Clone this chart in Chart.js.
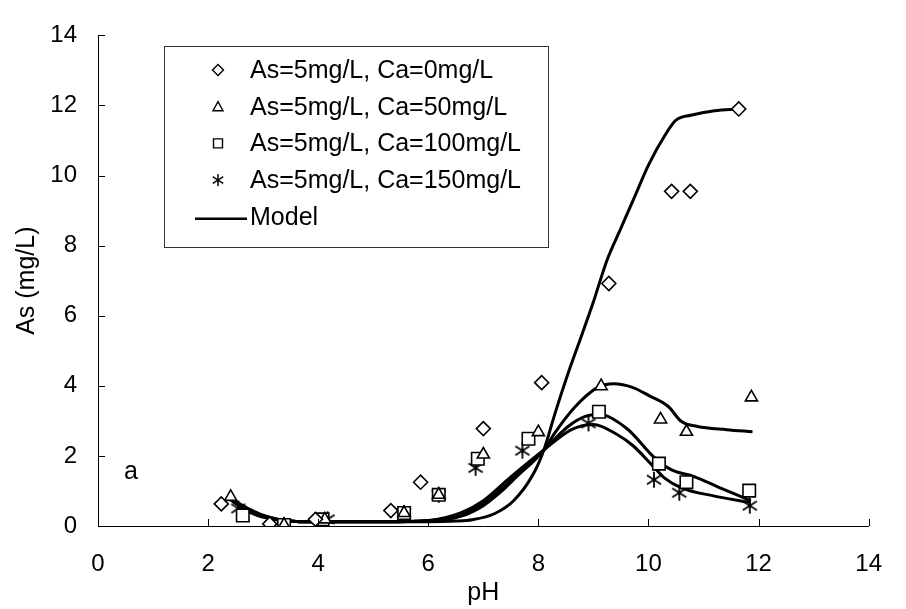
<!DOCTYPE html>
<html>
<head>
<meta charset="utf-8">
<script src="https://cdn.jsdelivr.net/npm/chart.js@4.4.1/dist/chart.umd.min.js"></script>
<style>
  html, body { margin: 0; padding: 0; background: #fff; }
  #wrap { width: 906px; height: 609px; }
</style>
</head>
<body>
<div id="wrap"><canvas id="chart" width="906" height="609"></canvas></div>
<script>
// As vs pH — measured points per Ca dose, plus model curves.
const FONT = '"Liberation Sans", Arial, sans-serif';

const seriesLabels = [
  "As=5mg/L, Ca=0mg/L", "As=5mg/L, Ca=50mg/L",
  "As=5mg/L, Ca=100mg/L", "As=5mg/L, Ca=150mg/L",
];
const modelLabel = "Model";

const phCa0 = [2.24, 3.12, 3.95, 5.32, 5.86, 7.0, 8.06, 9.28, 10.42, 10.76, 11.64];
const asCa0 = [0.63, 0.06, 0.19, 0.44, 1.25, 2.78, 4.09, 6.92, 9.55, 9.55, 11.9];

const phCa50 = [2.41, 3.38, 4.12, 5.56, 6.19, 7.0, 8.0, 9.14, 10.22, 10.69, 11.87];
const asCa50 = [0.83, 0.03, 0.19, 0.37, 0.89, 2.04, 2.68, 3.99, 3.04, 2.69, 3.67];

const phCa100 = [2.63, 3.38, 4.08, 5.56, 6.19, 6.90, 7.82, 9.10, 10.19, 10.69, 11.83];
const asCa100 = [0.30, 0.03, 0.19, 0.37, 0.89, 1.92, 2.49, 3.26, 1.78, 1.25, 1.01];

const phCa150 = [2.55, 3.38, 4.17, 5.56, 6.19, 6.86, 7.71, 8.91, 10.1, 10.56, 11.84];
const asCa150 = [0.50, 0.03, 0.19, 0.37, 0.89, 1.66, 2.15, 2.93, 1.32, 0.95, 0.58];

const modelPh0 = [2.35, 2.6, 2.9, 3.3, 3.6, 4.0, 5.0, 6.0, 6.5, 6.8, 7.2, 7.55, 7.9, 8.1, 8.3, 8.55, 8.8, 9.0, 9.25, 9.5, 9.75, 10.0, 10.3, 10.5, 10.77, 11.2, 11.64];
const modelAs0 = [0.82, 0.53, 0.30, 0.17, 0.13, 0.12, 0.12, 0.12, 0.14, 0.18, 0.35, 0.72, 1.46, 2.17, 3.2, 4.4, 5.5, 6.4, 7.6, 8.5, 9.4, 10.3, 11.15, 11.58, 11.72, 11.85, 11.9];

const modelPh50 = [2.4, 2.6, 2.9, 3.3, 3.6, 4.0, 5.0, 6.0, 6.6, 7.0, 7.3, 7.6, 8.1, 8.3, 8.66, 9.07, 9.37, 9.72, 10.01, 10.36, 10.6, 10.89, 11.42, 11.89];
const modelAs50 = [0.8, 0.56, 0.32, 0.17, 0.13, 0.12, 0.12, 0.14, 0.28, 0.58, 0.95, 1.4, 2.17, 2.66, 3.39, 3.95, 4.06, 3.95, 3.72, 3.41, 2.98, 2.84, 2.75, 2.69];

const modelPh100 = [2.45, 2.7, 3.0, 3.3, 3.6, 4.0, 5.0, 6.0, 6.6, 7.0, 7.5, 8.1, 8.54, 8.84, 9.1, 9.6, 10.13, 10.42, 10.83, 11.3, 11.86];
const modelAs100 = [0.75, 0.5, 0.3, 0.18, 0.13, 0.12, 0.12, 0.15, 0.32, 0.65, 1.3, 2.17, 2.84, 3.12, 3.18, 2.79, 1.92, 1.6, 1.41, 1.09, 0.72];

const modelPh150 = [2.5, 2.75, 3.0, 3.3, 3.6, 4.0, 5.0, 6.0, 6.6, 7.0, 7.5, 8.1, 8.6, 9.0, 9.43, 9.72, 10.07, 10.3, 10.6, 11.18, 11.86];
const modelAs150 = [0.7, 0.48, 0.3, 0.18, 0.13, 0.12, 0.12, 0.16, 0.38, 0.72, 1.4, 2.17, 2.75, 2.9, 2.61, 2.29, 1.73, 1.36, 1.09, 0.86, 0.67];

const zip = (xs, ys) => xs.map((x, i) => ({ x, y: ys[i] }));

// six-arm asterisk, drawn once on a small canvas and used as pointStyle
function asterisk(size, lw) {
  const c = document.createElement("canvas");
  c.width = c.height = size;
  const g = c.getContext("2d");
  const m = size / 2, r = size / 2 - 1, dx = r * 0.88, dy = r * 0.55;
  g.strokeStyle = "#000"; g.lineWidth = lw;
  g.beginPath();
  g.moveTo(m, m - r); g.lineTo(m, m + r);
  g.moveTo(m - dx, m - dy); g.lineTo(m + dx, m + dy);
  g.moveTo(m + dx, m - dy); g.lineTo(m - dx, m + dy);
  g.stroke();
  return c;
}
const starBig = asterisk(18, 1.8);
const starSmall = asterisk(14, 1.5);

const markerSet = (label, data, style, radius) => ({
  label, data, showLine: false, order: 0,
  pointStyle: style, pointRadius: radius, pointHoverRadius: radius,
  backgroundColor: "#fff", borderColor: "#000", borderWidth: 1.6,
});
const modelSet = (data) => ({
  label: modelLabel, data, showLine: true, order: 1,
  pointRadius: 0, borderColor: "#000", borderWidth: 3,
  cubicInterpolationMode: "monotone", fill: false,
});

const datasets = [
  markerSet(seriesLabels[0], zip(phCa0, asCa0), "rectRot", 7),
  markerSet(seriesLabels[1], zip(phCa50, asCa50), "triangle", 7),
  markerSet(seriesLabels[2], zip(phCa100, asCa100), "rect", 8.8),
  markerSet(seriesLabels[3], zip(phCa150, asCa150), starBig, 9),
  modelSet(zip(modelPh0, modelAs0)),
  modelSet(zip(modelPh50, modelAs50)),
  modelSet(zip(modelPh100, modelAs100)),
  modelSet(zip(modelPh150, modelAs150)),
];

// inside ticks, panel letter and the boxed legend
const decor = {
  id: "decor",
  afterDraw(chart) {
    const { ctx, chartArea: a, scales: { x, y } } = chart;
    ctx.save();
    ctx.strokeStyle = "#000"; ctx.lineWidth = 1;
    ctx.beginPath();
    for (let v = 0; v <= 14; v += 2) {
      const px = Math.round(x.getPixelForValue(v)) + 0.5;
      ctx.moveTo(px, a.bottom); ctx.lineTo(px, a.bottom - 7);
      const py = Math.round(y.getPixelForValue(v)) + 0.5;
      ctx.moveTo(a.left, py); ctx.lineTo(a.left + 7, py);
    }
    ctx.stroke();

    ctx.fillStyle = "#000";
    ctx.font = `25px ${FONT}`;
    ctx.textBaseline = "middle"; ctx.textAlign = "center";
    ctx.fillText("a", x.getPixelForValue(0.6), y.getPixelForValue(1.53));

    // legend
    const bx = 164.5, by = 46.5, bw = 384, bh = 201;
    ctx.fillStyle = "#fff"; ctx.fillRect(bx, by, bw, bh);
    ctx.strokeStyle = "#333"; ctx.lineWidth = 1; ctx.strokeRect(bx, by, bw, bh);
    const mx = 218, tx = 250;
    ctx.textAlign = "left"; ctx.font = `25px ${FONT}`;
    const rows = [...seriesLabels, modelLabel];
    rows.forEach((t, i) => {
      const cy = 70 + i * 36.7;
      ctx.fillStyle = "#000";
      ctx.fillText(t, tx, cy + 1);
      ctx.strokeStyle = "#000"; ctx.fillStyle = "#fff"; ctx.lineWidth = 1.4;
      ctx.beginPath();
      if (i === 0) {
        ctx.moveTo(mx - 5.5, cy); ctx.lineTo(mx, cy - 5.5);
        ctx.lineTo(mx + 5.5, cy); ctx.lineTo(mx, cy + 5.5); ctx.closePath();
        ctx.fill(); ctx.stroke();
      } else if (i === 1) {
        ctx.moveTo(mx, cy - 5); ctx.lineTo(mx + 5, cy + 4);
        ctx.lineTo(mx - 5, cy + 4); ctx.closePath();
        ctx.fill(); ctx.stroke();
      } else if (i === 2) {
        ctx.rect(mx - 4.5, cy - 4.5, 9, 9);
        ctx.fill(); ctx.stroke();
      } else if (i === 3) {
        ctx.drawImage(starSmall, mx - 7, cy - 7);
      } else {
        ctx.lineWidth = 2.5;
        ctx.moveTo(195, cy + 2); ctx.lineTo(247, cy + 2);
        ctx.stroke();
      }
    });
    ctx.restore();
  },
};

const tickFont = { family: FONT, size: 24 };
const titleFont = { family: FONT, size: 25 };

new Chart(document.getElementById("chart"), {
  type: "scatter",
  data: { datasets },
  options: {
    responsive: false, animation: false, devicePixelRatio: 1,
    layout: { padding: { top: 20, right: 13, left: 0, bottom: 0 } },
    plugins: { legend: { display: false }, tooltip: { enabled: false } },
    scales: {
      x: {
        type: "linear", min: 0, max: 14,
        ticks: { stepSize: 2, color: "#000", font: tickFont, padding: 24, maxRotation: 0 },
        grid: { display: false, drawTicks: false },
        border: { display: true, color: "#000", width: 1 },
        title: { display: true, text: "pH", color: "#000", font: titleFont, padding: { top: 0, bottom: 1 } },
        afterFit: (s) => { s.height = 83; },
      },
      y: {
        type: "linear", min: 0, max: 14,
        ticks: { stepSize: 2, color: "#000", font: tickFont, padding: 21 },
        grid: { display: false, drawTicks: false },
        border: { display: true, color: "#000", width: 1 },
        title: { display: true, text: "As (mg/L)", color: "#000", font: titleFont, padding: { top: 12, bottom: 0 } },
        afterFit: (s) => { s.width = 98; },
      },
    },
  },
  plugins: [decor],
});
</script>
</body>
</html>
